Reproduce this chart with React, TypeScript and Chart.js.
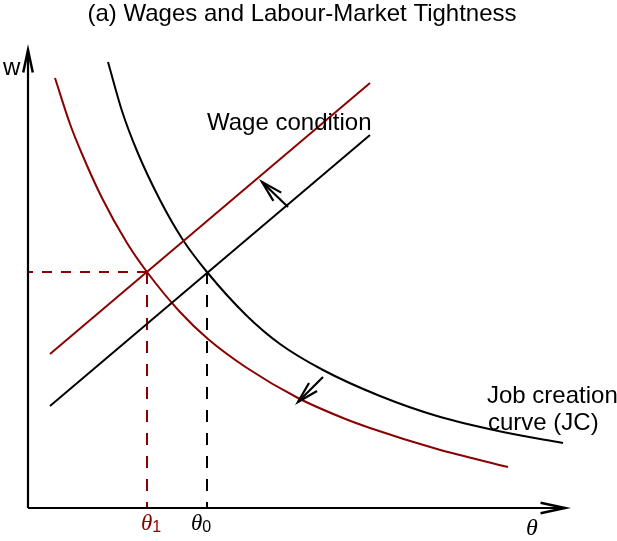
import React, { useEffect, useRef } from 'react';
import { Chart, registerables } from 'chart.js';
Chart.register(...registerables);

// Data units: θ (labour-market tightness, horizontal) and w (wage, vertical).
const THETA_MAX = 589;
const W_MAX = 508;
const AXIS_THETA_END = 537;
const AXIS_W_END = 458;

// Wage condition lines (before: black, after: red)
const wageBlackTheta = [22, 342];
const wageBlackW = [102, 373];
const wageRedTheta = [22, 342];
const wageRedW = [154, 425];

// Job creation curves (before: black, after: red)
const jcBlackTheta = [80, 94, 109, 132, 155, 179, 219, 252, 295, 352, 409, 475, 535];
const jcBlackW = [446, 397, 357, 308, 268, 236, 192, 164, 138, 112, 92, 76, 65];
const jcRedTheta = [27, 42, 54, 74, 99, 119, 152, 180, 219, 270, 315, 342, 409, 480];
const jcRedW = [430, 384, 354, 310, 265, 236, 196, 169, 140, 110, 90, 80, 59, 41];

// Equilibria
const theta0 = 179;
const theta1 = 119;
const wEq = 236;

// Shift arrows [from, to]
const shiftWageTheta = [260, 234];
const shiftWageW = [301, 326];
const shiftJCTheta = [295, 270];
const shiftJCW = [131, 106];

const RED = '#8b0000';
const BLACK = '#000000';

const pts = (xs: number[], ys: number[]) => xs.map((x, i) => ({ x, y: ys[i] }));

function headAt(ctx: CanvasRenderingContext2D, tx: number, ty: number, fx: number, fy: number, len: number, deg: number) {
  const ang = Math.atan2(fy - ty, fx - tx);
  const a = (deg * Math.PI) / 180;
  ctx.beginPath();
  ctx.moveTo(tx + len * Math.cos(ang + a), ty + len * Math.sin(ang + a));
  ctx.lineTo(tx, ty);
  ctx.lineTo(tx + len * Math.cos(ang - a), ty + len * Math.sin(ang - a));
  ctx.stroke();
}

const overlay = {
  id: 'overlay',
  afterDatasetsDraw(chart: any) {
    const ctx: CanvasRenderingContext2D = chart.ctx;
    const xs = chart.scales.x;
    const ys = chart.scales.y;
    const X = (v: number) => xs.getPixelForValue(v);
    const Y = (v: number) => ys.getPixelForValue(v);
    ctx.save();
    ctx.lineCap = 'butt';
    ctx.lineJoin = 'miter';
    // axes
    ctx.strokeStyle = BLACK;
    ctx.lineWidth = 2.2;
    ctx.beginPath();
    ctx.moveTo(X(0), Y(0));
    ctx.lineTo(X(0), Y(AXIS_W_END));
    ctx.moveTo(X(0), Y(0));
    ctx.lineTo(X(AXIS_THETA_END), Y(0));
    ctx.stroke();
    ctx.lineWidth = 2.5;
    headAt(ctx, X(0), Y(AXIS_W_END), X(0), Y(0), 23, 12);
    headAt(ctx, X(AXIS_THETA_END), Y(0), X(0), Y(0), 25, 12);
    // shift arrows
    ctx.lineWidth = 2.2;
    const arrow = (tx: number[], tw: number[]) => {
      ctx.beginPath();
      ctx.moveTo(X(tx[0]), Y(tw[0]));
      ctx.lineTo(X(tx[1]), Y(tw[1]));
      ctx.stroke();
      headAt(ctx, X(tx[1]), Y(tw[1]), X(tx[0]), Y(tw[0]), 22, 15);
    };
    arrow(shiftWageTheta, shiftWageW);
    arrow(shiftJCTheta, shiftJCW);

    // texts
    ctx.fillStyle = BLACK;
    ctx.textBaseline = 'alphabetic';
    ctx.font = '24px "Liberation Sans", Arial, sans-serif';
    ctx.textAlign = 'center';
    ctx.fillText('(a) Wages and Labour-Market Tightness', 302, 21);
    ctx.textAlign = 'left';
    ctx.fillText('w', 3, 75);
    ctx.fillText('Wage condition', 207, 130);
    ctx.fillText('Job creation', 487, 403);
    ctx.fillText('curve (JC)', 488, 430);

    // theta labels
    ctx.font = 'italic 24px "Liberation Serif", serif';
    ctx.fillText('θ', 526, 535);
    const thetaSub = (v: number, dx: number, sub: string, color: string) => {
      ctx.fillStyle = color;
      ctx.font = 'italic 23px "Liberation Serif", serif';
      const x = X(v) + dx;
      ctx.fillText('θ', x, 530);
      const w = ctx.measureText('θ').width;
      ctx.font = '16px "Liberation Sans", Arial, sans-serif';
      ctx.fillText(sub, x + w, 532);
    };
    thetaSub(theta1, -6, '1', RED);
    thetaSub(theta0, -16, '0', BLACK);
    ctx.restore();
  },
};

export default function App() {
  const ref = useRef<HTMLCanvasElement>(null);
  useEffect(() => {
    const line = (data: any[], color: string, extra: any = {}) => ({
      data,
      borderColor: color,
      borderWidth: 2,
      pointRadius: 0,
      fill: false,
      clip: false,
      ...extra,
    });
    const chart = new Chart(ref.current!, {
      type: 'line',
      data: {
        datasets: [
          line(pts(wageBlackTheta, wageBlackW), BLACK),
          line(pts(wageRedTheta, wageRedW), RED),
          line(pts(jcBlackTheta, jcBlackW), BLACK, { cubicInterpolationMode: 'monotone' }),
          line(pts(jcRedTheta, jcRedW), RED, { cubicInterpolationMode: 'monotone' }),
          line(pts([theta1, 0], [wEq, wEq]), RED, { borderDash: [10, 9] }),
          line(pts([theta1, theta1], [wEq, 0]), RED, { borderDash: [12, 11] }),
          line(pts([theta0, theta0], [wEq, 0]), BLACK, { borderDash: [12, 11] }),
        ] as any,
      },
      options: {
        animation: false,
        responsive: false,
        layout: { padding: { left: 28, right: 0, top: 0, bottom: 33 } },
        plugins: { legend: { display: false }, tooltip: { enabled: false }, title: { display: false } },
        scales: {
          x: { type: 'linear', min: 0, max: THETA_MAX, display: false },
          y: { type: 'linear', min: 0, max: W_MAX, display: false },
        },
      } as any,
      plugins: [overlay],
    });
    return () => chart.destroy();
  }, []);
  return (
    <div style={{ position: 'fixed', left: 0, top: 0, width: 617, height: 541, background: '#fff' }}>
      <canvas ref={ref} width={617} height={541} style={{ display: 'block' }} />
    </div>
  );
}
